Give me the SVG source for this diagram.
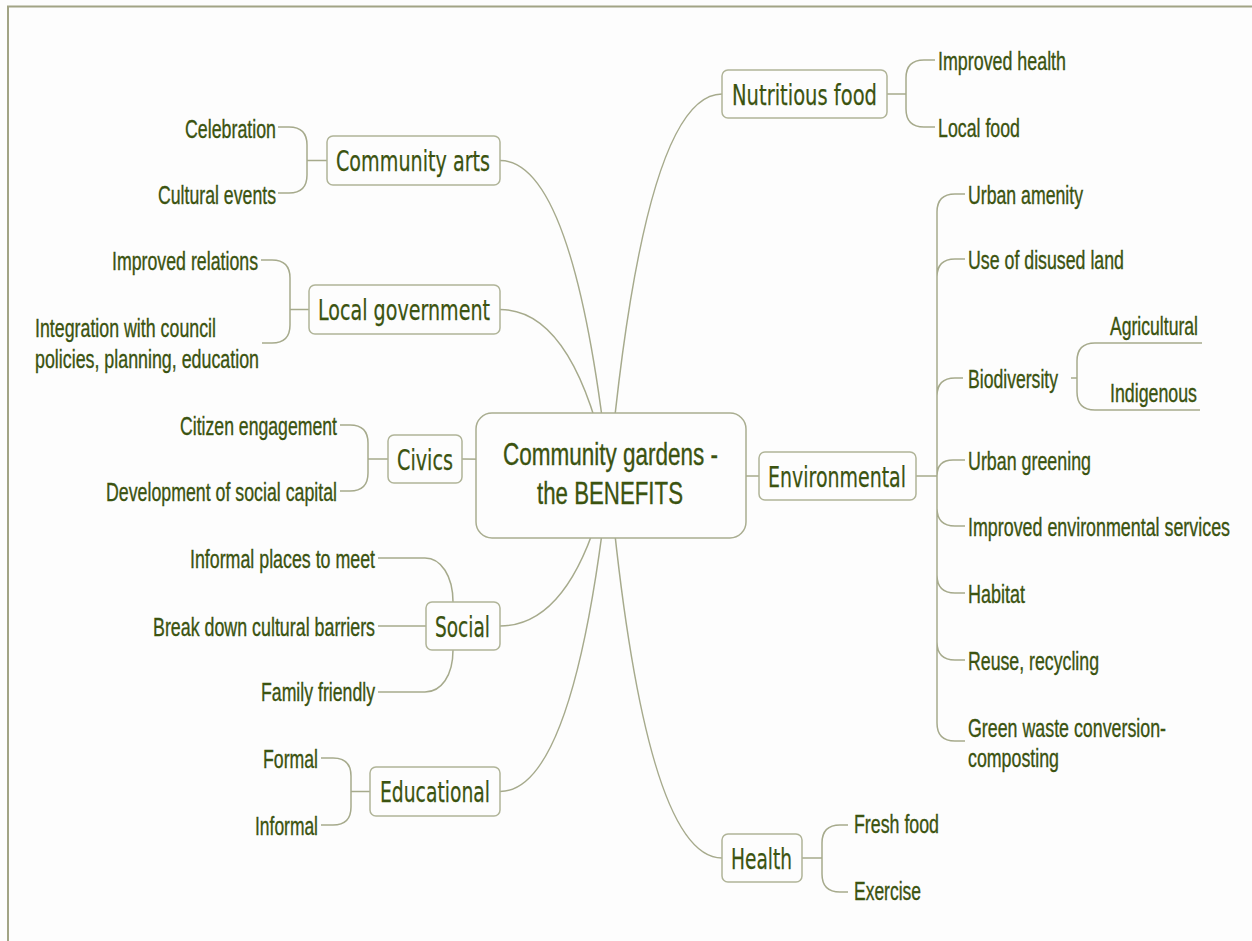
<svg xmlns="http://www.w3.org/2000/svg" width="1252" height="941" viewBox="0 0 1252 941">
<style>
.bg{fill:#fdfdfd}
.frame{stroke:#a2a485;stroke-width:2;fill:none}
.con{fill:none;stroke:#a6aa8c;stroke-width:1.5}
.box{fill:#fdfdfd;stroke:#b0b498;stroke-width:1.5}
.root{fill:#fdfdfd;stroke:#a9ad90;stroke-width:1.5}
.leaf{font-family:"Liberation Sans",Arial,sans-serif;font-size:25.5px;fill:#3b5310;stroke:#3b5310;stroke-width:0.35}
.topic{font-family:"DejaVu Sans",sans-serif;font-size:29px;fill:#3b5310;stroke:#3b5310;stroke-width:0.25}
.rt{font-family:"Liberation Sans",Arial,sans-serif;font-size:32px;fill:#3b5310;stroke:#3b5310;stroke-width:0.35}
</style>
<rect class="bg" x="0" y="0" width="1252" height="941"/>
<path class="frame" d="M8,941 V6.5 H1252"/>

<g id="connectors">
  <path class="con" d="M609,475 Q575,160.5 500,160.5"/>
  <path class="con" d="M609,475 Q575,309.5 500,309.5"/>
  <path class="con" d="M609,475 Q563,459 462,459"/>
  <path class="con" d="M609,475 Q575,626 500,626"/>
  <path class="con" d="M609,475 Q575,791.5 500,791.5"/>
  <path class="con" d="M609,475 Q644,94 722,94"/>
  <path class="con" d="M609,475 Q654,476 759,476"/>
  <path class="con" d="M609,475 Q644,858 722,858"/>
  <path class="con" d="M327,160.5 H307 M307,160.5 V145 Q307,127 289,127 H278 M307,160.5 V175 Q307,193 289,193 H278"/>
  <path class="con" d="M309,309.5 H290 M290,309.5 V278 Q290,260 272,260 H261 M290,309.5 V325 Q290,343 272,343 H262"/>
  <path class="con" d="M388,459 H368 M368,459 V443 Q368,425 350,425 H340 M368,459 V473 Q368,491 350,491 H340"/>
  <path class="con" d="M453,602 C453,576 441,558 425,558 H378 M426,626 H378 M453,650 C453,676 441,692 425,692 H378"/>
  <path class="con" d="M370,791.5 H351 M351,791.5 V776 Q351,758 333,758 H321 M351,791.5 V807 Q351,825 333,825 H321"/>
  <path class="con" d="M887,94 H906 M906,94 V78 Q906,60 924,60 H935 M906,94 V109 Q906,127 924,127 H935"/>
  <path class="con" d="M916,476 H937
    M937,476 V212 Q937,194 955,194 H965
    M937,476 V277 Q937,259 955,259 H965
    M937,476 V396 Q937,378 955,378 H963
    M937,476 Q937,460 953,460 H965
    M937,476 V508 Q937,526 955,526 H965
    M937,476 V575 Q937,593 955,593 H965
    M937,476 V642 Q937,660 955,660 H965
    M937,476 V723 Q937,741 955,741 H965"/>
  <path class="con" d="M1071,378 H1077 M1077,378 V361 Q1077,343 1095,343 H1202 M1077,378 V392 Q1077,410 1095,410 H1200"/>
  <path class="con" d="M802,858 H822 M822,858 V843 Q822,825 840,825 H848 M822,858 V874 Q822,892 840,892 H848"/>
</g>

<g id="root">
  <rect class="root" x="476" y="413" width="270" height="125" rx="16"/>
  <text class="rt" x="503" y="465" textLength="215" lengthAdjust="spacingAndGlyphs">Community gardens -</text>
  <text class="rt" x="537" y="504" textLength="146" lengthAdjust="spacingAndGlyphs">the BENEFITS</text>
</g>

<g id="topic-nutritious-food">
  <rect class="box" x="722" y="70" width="165" height="48" rx="6"/>
  <text class="topic" x="732" y="104.5" textLength="145" lengthAdjust="spacingAndGlyphs">Nutritious food</text>
</g>
<g id="topic-community-arts">
  <rect class="box" x="327" y="136" width="173" height="49" rx="6"/>
  <text class="topic" x="336" y="171" textLength="154" lengthAdjust="spacingAndGlyphs">Community arts</text>
</g>
<g id="topic-local-government">
  <rect class="box" x="309" y="285" width="191" height="49" rx="6"/>
  <text class="topic" x="318" y="320" textLength="172" lengthAdjust="spacingAndGlyphs">Local government</text>
</g>
<g id="topic-civics">
  <rect class="box" x="388" y="435" width="74" height="48" rx="6"/>
  <text class="topic" x="397" y="469.5" textLength="56" lengthAdjust="spacingAndGlyphs">Civics</text>
</g>
<g id="topic-social">
  <rect class="box" x="426" y="602" width="74" height="48" rx="6"/>
  <text class="topic" x="435" y="636.5" textLength="55" lengthAdjust="spacingAndGlyphs">Social</text>
</g>
<g id="topic-educational">
  <rect class="box" x="370" y="767" width="130" height="49" rx="6"/>
  <text class="topic" x="380" y="802" textLength="110" lengthAdjust="spacingAndGlyphs">Educational</text>
</g>
<g id="topic-environmental">
  <rect class="box" x="759" y="452" width="157" height="48" rx="6"/>
  <text class="topic" x="768" y="486.5" textLength="138" lengthAdjust="spacingAndGlyphs">Environmental</text>
</g>
<g id="topic-health">
  <rect class="box" x="722" y="834" width="80" height="48" rx="6"/>
  <text class="topic" x="731" y="868.5" textLength="61" lengthAdjust="spacingAndGlyphs">Health</text>
</g>

<g id="leaf-celebration"><text class="leaf" x="185" y="138" textLength="91" lengthAdjust="spacingAndGlyphs">Celebration</text></g>
<g id="leaf-cultural-events"><text class="leaf" x="158" y="204" textLength="118" lengthAdjust="spacingAndGlyphs">Cultural events</text></g>
<g id="leaf-improved-relations"><text class="leaf" x="112" y="270" textLength="146" lengthAdjust="spacingAndGlyphs">Improved relations</text></g>
<g id="leaf-integration">
  <text class="leaf" x="35" y="337" textLength="181" lengthAdjust="spacingAndGlyphs">Integration with council</text>
  <text class="leaf" x="35" y="368" textLength="224" lengthAdjust="spacingAndGlyphs">policies, planning, education</text>
</g>
<g id="leaf-citizen-engagement"><text class="leaf" x="180" y="435" textLength="157" lengthAdjust="spacingAndGlyphs">Citizen engagement</text></g>
<g id="leaf-social-capital"><text class="leaf" x="106" y="501" textLength="231" lengthAdjust="spacingAndGlyphs">Development of social capital</text></g>
<g id="leaf-informal-places"><text class="leaf" x="190" y="568" textLength="185" lengthAdjust="spacingAndGlyphs">Informal places to meet</text></g>
<g id="leaf-cultural-barriers"><text class="leaf" x="153" y="636" textLength="222" lengthAdjust="spacingAndGlyphs">Break down cultural barriers</text></g>
<g id="leaf-family-friendly"><text class="leaf" x="261" y="701" textLength="114" lengthAdjust="spacingAndGlyphs">Family friendly</text></g>
<g id="leaf-formal"><text class="leaf" x="263" y="768" textLength="55" lengthAdjust="spacingAndGlyphs">Formal</text></g>
<g id="leaf-informal"><text class="leaf" x="255" y="835" textLength="63" lengthAdjust="spacingAndGlyphs">Informal</text></g>

<g id="leaf-improved-health"><text class="leaf" x="938" y="70" textLength="128" lengthAdjust="spacingAndGlyphs">Improved health</text></g>
<g id="leaf-local-food"><text class="leaf" x="938" y="137" textLength="82" lengthAdjust="spacingAndGlyphs">Local food</text></g>
<g id="leaf-urban-amenity"><text class="leaf" x="968" y="204" textLength="115" lengthAdjust="spacingAndGlyphs">Urban amenity</text></g>
<g id="leaf-disused-land"><text class="leaf" x="968" y="269" textLength="156" lengthAdjust="spacingAndGlyphs">Use of disused land</text></g>
<g id="leaf-biodiversity"><text class="leaf" x="968" y="388" textLength="90" lengthAdjust="spacingAndGlyphs">Biodiversity</text></g>
<g id="leaf-agricultural"><text class="leaf" x="1110" y="335" textLength="88" lengthAdjust="spacingAndGlyphs">Agricultural</text></g>
<g id="leaf-indigenous"><text class="leaf" x="1110" y="402" textLength="87" lengthAdjust="spacingAndGlyphs">Indigenous</text></g>
<g id="leaf-urban-greening"><text class="leaf" x="968" y="470" textLength="123" lengthAdjust="spacingAndGlyphs">Urban greening</text></g>
<g id="leaf-env-services"><text class="leaf" x="968" y="536" textLength="262" lengthAdjust="spacingAndGlyphs">Improved environmental services</text></g>
<g id="leaf-habitat"><text class="leaf" x="968" y="603" textLength="57" lengthAdjust="spacingAndGlyphs">Habitat</text></g>
<g id="leaf-reuse"><text class="leaf" x="968" y="670" textLength="131" lengthAdjust="spacingAndGlyphs">Reuse, recycling</text></g>
<g id="leaf-green-waste">
  <text class="leaf" x="968" y="737" textLength="198" lengthAdjust="spacingAndGlyphs">Green waste conversion-</text>
  <text class="leaf" x="968" y="767" textLength="91" lengthAdjust="spacingAndGlyphs">composting</text>
</g>
<g id="leaf-fresh-food"><text class="leaf" x="854" y="833" textLength="85" lengthAdjust="spacingAndGlyphs">Fresh food</text></g>
<g id="leaf-exercise"><text class="leaf" x="854" y="900" textLength="67" lengthAdjust="spacingAndGlyphs">Exercise</text></g>
</svg>
